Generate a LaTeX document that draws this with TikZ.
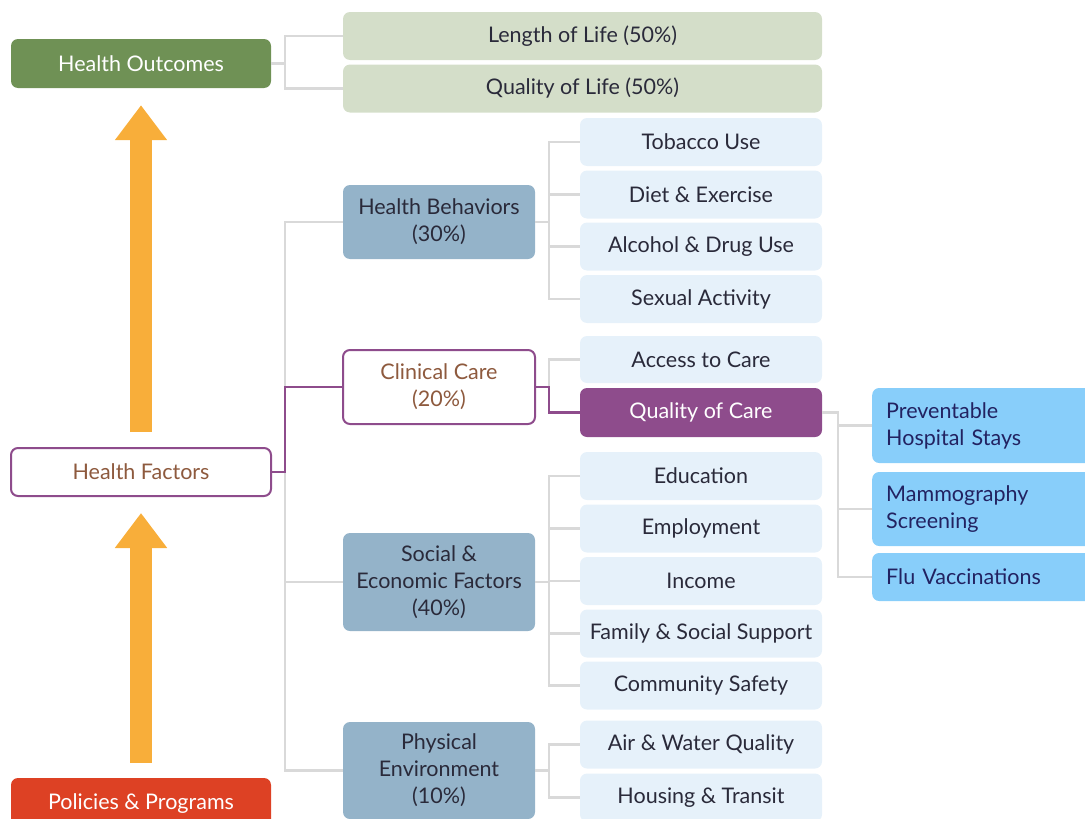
\documentclass[tikz,border=0pt]{standalone}
\usepackage{fontspec}
\setmainfont{Lato}
\usetikzlibrary{arrows.meta,positioning}

\definecolor{outgreen}{HTML}{6F9155}
\definecolor{palegreen}{HTML}{D4DEC9}
\definecolor{steel}{HTML}{94B3C9}
\definecolor{paleblue}{HTML}{E6F1FA}
\definecolor{skyblue}{HTML}{88CEFA}
\definecolor{plum}{HTML}{8E4C8C}
\definecolor{rust}{HTML}{8E5A3E}
\definecolor{policyred}{HTML}{DD4124}
\definecolor{orangearrow}{HTML}{F8AE3A}
\definecolor{linkgrey}{HTML}{D9D9D9}
\definecolor{inktext}{HTML}{2A2A3A}

\begin{document}
\begin{tikzpicture}
[x=1pt,y=-1pt,
 every node/.style={font=\fontsize{21.5}{27}\selectfont},
 box/.style={rounded corners=7pt,inner sep=0pt,align=center,text=inktext},
 mainbox/.style={box,minimum width=260pt,minimum height=49pt},
 topbox/.style={box,fill=palegreen,minimum width=479pt,minimum height=48pt},
 groupbox/.style={box,fill=steel,minimum width=192pt},
 itembox/.style={box,fill=paleblue,minimum width=242pt,minimum height=48pt},
 measurebox/.style={box,fill=skyblue,anchor=west,align=left,text width=212pt,
   inner xsep=14pt,text=inktext!80!blue},
 link/.style={draw=linkgrey,line width=2.8pt},
 plink/.style={draw=plum,line width=2.6pt},
 bigarrow/.style={draw=orangearrow,line width=22pt,
   -{Triangle[width=50pt,length=35pt]}}]
\useasboundingbox (0,0) rectangle (1085,819);

% left column
\node[mainbox,fill=outgreen,text=white] (outcomes) at (141,63.5) {Health Outcomes};
\node[mainbox,fill=white,draw=plum,line width=2pt,text=rust,minimum height=48pt] (factors) at (141,472) {Health Factors};
\node[mainbox,fill=policyred,text=white,minimum height=60pt] (policy) at (141,808) {};
\node[text=white] at (141,804) {Policies \& Programs};

\draw[bigarrow,shorten <=15pt,shorten >=17pt] (factors.north) -- (outcomes.south);
\draw[bigarrow,shorten <=15pt,shorten >=16pt] (policy.north) -- (factors.south);

% outcomes
\node[topbox] (length) at (582.5,36) {Length of Life (50\%)};
\node[topbox] (quality) at (582.5,88.5) {Quality of Life (50\%)};

% factor groups
\node[groupbox,minimum height=74pt] (behav) at (439,222) {Health Behaviors\\(30\%)};
\node[groupbox,fill=white,draw=plum,line width=2pt,text=rust,minimum height=74pt] (clinic) at (439,387) {Clinical Care\\(20\%)};
\node[groupbox,minimum height=98pt] (social) at (439,582) {Social \&\\Economic Factors\\(40\%)};
\node[groupbox,minimum height=97pt] (phys) at (439,770.5) {Physical\\Environment\\(10\%)};

% items
\node[itembox] (tobacco) at (701,142) {Tobacco Use};
\node[itembox] (diet) at (701,194.5) {Diet \& Exercise};
\node[itembox] (alcohol) at (701,246.5) {Alcohol \& Drug Use};
\node[itembox] (sexual) at (701,299) {Sexual Activity};
\node[itembox,minimum height=47pt] (access) at (701,359.5) {Access to Care};
\node[itembox,fill=plum,text=white,minimum height=49pt] (carequal) at (701,412.5) {Quality of Care};
\node[itembox] (educ) at (701,476) {Education};
\node[itembox] (employ) at (701,528.5) {Employment};
\node[itembox] (income) at (701,581) {Income};
\node[itembox] (family) at (701,633.5) {Family \& Social Support};
\node[itembox] (safety) at (701,685.5) {Community Safety};
\node[itembox] (airwater) at (701,744.5) {Air \& Water Quality};
\node[itembox] (housing) at (701,797.5) {Housing \& Transit};

% measures
\node[measurebox,minimum height=75pt] (prevent) at (872,425.5) {Preventable\\Hospital Stays};
\node[measurebox,minimum height=74pt] (mammo) at (872,509) {Mammography\\Screening};
\node[measurebox,minimum height=48pt] (flu) at (872,577) {Flu Vaccinations};

% spines
\coordinate (ospine) at (285,0);
\coordinate (fspine) at (285,0);
\coordinate (ispine) at (549,0);
\coordinate (mspine) at (838,0);

\draw[link] (outcomes.east) -- (outcomes.east -| ospine);
\draw[link] (length.west) -- (length.west -| ospine) -- (quality.west -| ospine) -- (quality.west);

\draw[link] (behav.west) -- (behav.west -| fspine) -- (phys.west -| fspine) -- (phys.west);
\draw[link] (social.west) -- (social.west -| fspine);

\draw[link] (behav.east) -- (behav.east -| ispine);
\draw[link] (tobacco.west) -- (tobacco.west -| ispine) -- (sexual.west -| ispine) -- (sexual.west);
\foreach \n in {diet,alcohol} \draw[link] (\n.west) -- (\n.west -| ispine);

\draw[link] (access.west) -- (access.west -| ispine) -- (clinic.east -| ispine);

\draw[link] (social.east) -- (social.east -| ispine);
\draw[link] (educ.west) -- (educ.west -| ispine) -- (safety.west -| ispine) -- (safety.west);
\foreach \n in {employ,income,family} \draw[link] (\n.west) -- (\n.west -| ispine);

\draw[link] (airwater.west) -- (airwater.west -| ispine) -- (housing.west -| ispine) -- (housing.west);
\draw[link] (phys.east) -- (phys.east -| ispine);

\draw[link] (carequal.east) -- (carequal.east -| mspine) -- (flu.west -| mspine) -- (flu.west);
\foreach \n in {prevent,mammo} \draw[link] (\n.west) -- (\n.west -| mspine);

% highlighted path
\draw[plink] (factors.east) -- (factors.east -| fspine) |- (clinic.west);
\draw[plink] (clinic.east) -- (clinic.east -| ispine) |- (carequal.west);
\end{tikzpicture}
\end{document}
